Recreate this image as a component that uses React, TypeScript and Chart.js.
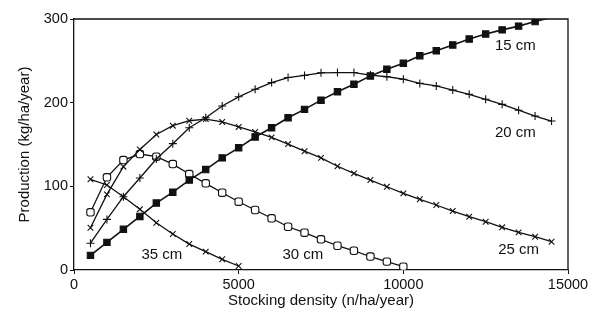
import React, { useEffect, useRef } from "react";
import { Chart, registerables } from "chart.js";

Chart.register(...registerables);

const densities = [500, 1000, 1500, 2000, 2500, 3000, 3500, 4000, 4500, 5000, 5500, 6000, 6500, 7000, 7500, 8000, 8500, 9000, 9500, 10000, 10500, 11000, 11500, 12000, 12500, 13000, 13500, 14000, 14500];

const cm15 = [17.5, 33, 48.6, 64, 80, 93, 107.5, 120, 134, 146, 159, 170, 182, 192, 203, 213, 222, 232, 240, 247, 256, 262, 269, 276, 282, 287, 291.5, 297, 302];
const cm20 = [32, 60.5, 87.6, 110, 132.6, 151, 170, 182, 196, 207, 216, 224, 230, 232.6, 235.7, 236, 236, 233, 231, 228, 223, 220, 215, 210, 204, 198, 191, 184, 178];
const cm25 = [50.5, 90.4, 123.5, 144, 162, 172.5, 178.4, 180.4, 177, 171, 165, 158.5, 150.5, 142, 134, 124, 115.5, 107.5, 99.5, 91.6, 84.5, 77.7, 70.5, 63.7, 57.7, 51, 45, 39.8, 33.8];
const cm30 = [69, 110.8, 131.4, 138.6, 135.4, 126.6, 114.7, 103.6, 92.4, 81.6, 71.7, 61.8, 51.7, 44.6, 36.7, 29, 23, 16, 10, 4];
const cm35 = [108.4, 101.6, 87.6, 72.5, 56.5, 43, 31, 22, 12.8, 4.8];

const seriesLabels = ["15 cm", "20 cm", "25 cm", "30 cm", "35 cm"];
const labelX = [13400, 13400, 13500, 6950, 2670];
const labelY = [267.6, 164.5, 23.9, 17.9, 17.9];

const xTicks = [0, 5000, 10000, 15000];
const yTicks = [0, 100, 200, 300];

const FONT = "'Liberation Sans', Arial, sans-serif";
const INK = "#111";

const pts = (ys: number[]) => ys.map((y, i) => ({ x: densities[i], y }));

export default function App() {
  const ref = useRef<HTMLCanvasElement>(null);
  useEffect(() => {
    if (!ref.current) return;
    const boxPlugin = {
      id: "box",
      afterDatasetsDraw(chart: any) {
        const { ctx, chartArea: a, scales } = chart;
        ctx.save();
        ctx.strokeStyle = INK;
        ctx.lineWidth = 1.3;
        ctx.beginPath();
        ctx.moveTo(a.left, a.top);
        ctx.lineTo(a.right, a.top);
        ctx.lineTo(a.right, a.bottom);
        ctx.stroke();
        ctx.fillStyle = INK;
        ctx.font = `15px ${FONT}`;
        ctx.textAlign = "center";
        ctx.textBaseline = "middle";
        seriesLabels.forEach((t, i) => {
          ctx.fillText(t, scales.x.getPixelForValue(labelX[i]), scales.y.getPixelForValue(labelY[i]));
        });
        ctx.restore();
      },
    };
    const common = {
      borderColor: INK,
      borderWidth: 1.3,
      pointBorderColor: INK,
      pointBorderWidth: 1.1,
      tension: 0,
      showLine: true,
    };
    const chart = new Chart(ref.current, {
      type: "scatter",
      data: {
        datasets: [
          { ...common, label: seriesLabels[0], data: pts(cm15), pointStyle: "rect", pointRadius: cm15.map((v) => (v > 300 ? 0 : 4.5)), pointBackgroundColor: INK, borderWidth: 1.6 },
          { ...common, label: seriesLabels[1], data: pts(cm20), pointStyle: "cross", pointRadius: 4, pointBackgroundColor: INK },
          { ...common, label: seriesLabels[2], data: pts(cm25), pointStyle: "crossRot", pointRadius: 4, pointBackgroundColor: INK },
          { ...common, label: seriesLabels[3], data: pts(cm30), pointStyle: "rectRounded", pointRadius: 4.3, pointBackgroundColor: "#fff" },
          { ...common, label: seriesLabels[4], data: pts(cm35), pointStyle: "crossRot", pointRadius: 4, pointBackgroundColor: INK },
        ],
      },
      options: {
        animation: false,
        responsive: false,
        maintainAspectRatio: false,
        layout: { padding: { top: 19, right: 32, left: 16, bottom: 9 } },
        plugins: { legend: { display: false }, tooltip: { enabled: false } },
        scales: {
          x: {
            type: "linear",
            min: 0,
            max: 15000,
            afterBuildTicks: (s: any) => { s.ticks = xTicks.map((v) => ({ value: v })); },
            afterFit: (s: any) => { s.height = 40; },
            border: { display: true, color: INK, width: 1.3 },
            grid: { display: true, drawOnChartArea: false, drawTicks: true, tickLength: 4, color: INK },
            ticks: { color: INK, font: { family: FONT, size: 14.5 }, padding: 2, maxRotation: 0, callback: (v: any) => String(v) },
            title: { display: true, text: "Stocking density (n/ha/year)", color: INK, font: { family: FONT, size: 15 }, padding: { top: 0, bottom: 0 } },
          },
          y: {
            type: "linear",
            min: 0,
            max: 300,
            afterBuildTicks: (s: any) => { s.ticks = yTicks.map((v) => ({ value: v })); },
            afterFit: (s: any) => { s.width = 58; },
            border: { display: true, color: INK, width: 1.3 },
            grid: { display: true, drawOnChartArea: false, drawTicks: true, tickLength: 4, color: INK },
            ticks: { color: INK, font: { family: FONT, size: 14.5 }, padding: 2, callback: (v: any) => String(v) },
            title: { display: true, text: "Production (kg/ha/year)", color: INK, font: { family: FONT, size: 15 }, padding: { top: 0, bottom: 4 } },
          },
        },
      },
      plugins: [boxPlugin],
    } as any);
    return () => chart.destroy();
  }, []);
  return (
    <div style={{ position: "fixed", left: 0, top: 0, width: 600, height: 319, background: "#fff" }}>
      <canvas ref={ref} width={600} height={319} style={{ width: 600, height: 319 }} />
    </div>
  );
}
